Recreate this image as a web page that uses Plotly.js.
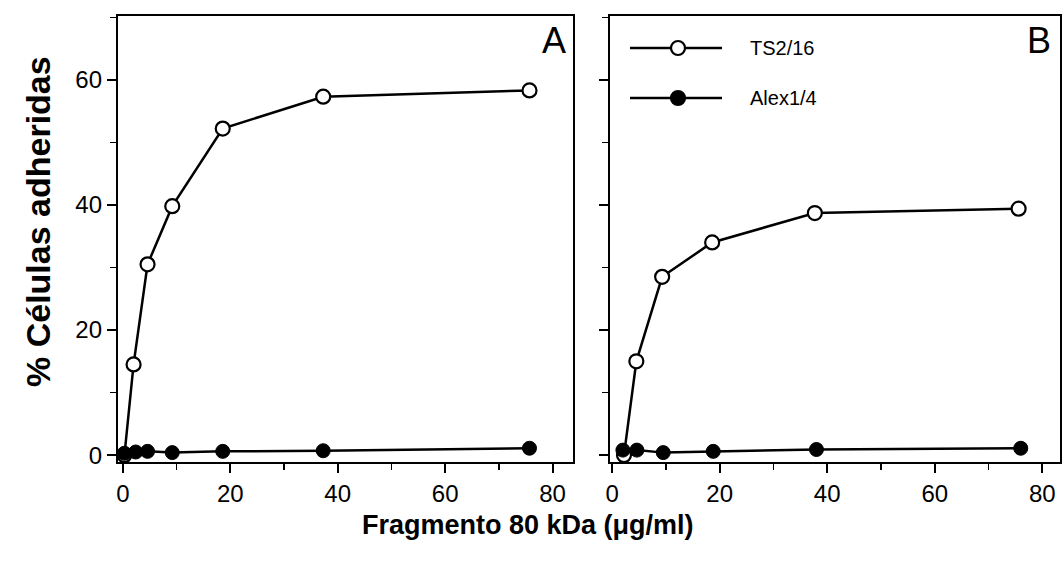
<!DOCTYPE html>
<html>
<head>
<meta charset="utf-8">
<script src="https://cdn.plot.ly/plotly-3.0.1.min.js"></script>
<style>html,body{margin:0;padding:0;background:#fff;}#chart{width:1064px;height:574px;}</style>
</head>
<body>
<div id="chart"></div>
<script>
// Panel A data
const aTsX = [0.3, 2.0, 4.6, 9.2, 18.6, 37.3, 75.7];
const aTsY = [0.0, 14.5, 30.5, 39.8, 52.2, 57.3, 58.3];
const aAlX = [0.3, 2.4, 4.6, 9.2, 18.6, 37.3, 75.7];
const aAlY = [0.3, 0.5, 0.6, 0.4, 0.6, 0.7, 1.1];
// Panel B data
const bTsX = [2.2, 4.5, 9.3, 18.6, 37.7, 75.6];
const bTsY = [0.0, 15.0, 28.5, 34.0, 38.7, 39.4];
const bAlX = [2.0, 4.6, 9.5, 18.8, 38.0, 76.0];
const bAlY = [0.8, 0.8, 0.4, 0.6, 0.9, 1.1];
const seriesNames = ["TS2/16", "Alex1/4"];
const yTickVals = [0, 20, 40, 60];
const yTickText = ["0", "20", "40", "60"];
const xTickVals = [0, 20, 40, 60, 80];
const xTickText = ["0", "20", "40", "60", "80"];
const panelLabels = ["A", "B"];
const xTitle = "Fragmento 80 kDa (μg/ml)";
const yTitle = "% Células adheridas";

const W = 1064, H = 574;
const FONT = "'Liberation Sans Narrow', 'Liberation Sans', Arial, sans-serif";
const openMarker = {symbol: "circle", size: 14, color: "#fff", line: {color: "#000", width: 2.2}};
const fillMarker = {symbol: "circle", size: 14, color: "#000", line: {color: "#000", width: 1}};
const lineStyle = {color: "#000", width: 2.5};

const traces = [
  {x: aTsX, y: aTsY, xaxis: "x", yaxis: "y", mode: "lines+markers", name: seriesNames[0], line: lineStyle, marker: openMarker},
  {x: aAlX, y: aAlY, xaxis: "x", yaxis: "y", mode: "lines+markers", name: seriesNames[1], line: lineStyle, marker: fillMarker},
  {x: bTsX, y: bTsY, xaxis: "x2", yaxis: "y2", mode: "lines+markers", name: seriesNames[0], line: lineStyle, marker: openMarker},
  {x: bAlX, y: bAlY, xaxis: "x2", yaxis: "y2", mode: "lines+markers", name: seriesNames[1], line: lineStyle, marker: fillMarker}
];

function xAxis(domain, range, anchor) {
  return {
    domain: domain, range: range, anchor: anchor,
    showline: true, linecolor: "#000", linewidth: 2.2, mirror: true,
    ticks: "outside", ticklen: 9, tickwidth: 2, tickcolor: "#000",
    tickvals: xTickVals, ticktext: xTickText,
    minor: {ticks: "outside", ticklen: 6, tickwidth: 1.5, tickcolor: "#000", dtick: 10, tick0: 0, showgrid: false},
    showgrid: false, zeroline: false,
    tickfont: {family: FONT, size: 24, color: "#000"}
  };
}
function yAxis(domain, anchor, labels) {
  return {
    domain: domain, range: [-1.1, 70.2], anchor: anchor,
    showline: true, linecolor: "#000", linewidth: 2.2, mirror: true,
    ticks: "outside", ticklen: 9, tickwidth: 2, tickcolor: "#000",
    tickvals: yTickVals, ticktext: yTickText, showticklabels: labels,
    minor: {ticks: "outside", ticklen: 6, tickwidth: 1.5, tickcolor: "#000", dtick: 10, tick0: 0, showgrid: false},
    showgrid: false, zeroline: false,
    tickfont: {family: FONT, size: 24, color: "#000"}
  };
}

// Hand-drawn legend (decoration) inside panel B
const legRows = [48, 98];
const legFills = ["#fff", "#000"];
const shapes = [];
const legAnn = [];
legRows.forEach((py, i) => {
  const yy = 1 - py / H;
  shapes.push({type: "line", xref: "paper", yref: "paper", x0: 630 / W, x1: 722 / W, y0: yy, y1: yy,
               line: {color: "#000", width: 2.5}});
  shapes.push({type: "circle", xref: "paper", yref: "paper", x0: 671 / W, x1: 685 / W,
               y0: yy - 7 / H, y1: yy + 7 / H, fillcolor: legFills[i], line: {color: "#000", width: 2.2}});
  legAnn.push({xref: "paper", yref: "paper", x: 748 / W, y: yy, xanchor: "left", yanchor: "middle", showarrow: false,
               text: seriesNames[i], font: {family: "'Liberation Sans', Arial, sans-serif", size: 20, color: "#000"}});
});

const yDom = [1 - 462 / H, 1 - 16 / H];
const layout = {
  width: W, height: H,
  margin: {l: 0, r: 0, t: 0, b: 0},
  paper_bgcolor: "#fff", plot_bgcolor: "#fff",
  showlegend: false,
  xaxis: xAxis([118 / W, 573 / W], [-0.9, 83.8], "y"),
  yaxis: yAxis(yDom, "x", true),
  xaxis2: xAxis([610 / W, 1060 / W], [-0.4, 83.3], "y2"),
  yaxis2: yAxis(yDom, "x2", false),
  shapes: shapes,
  annotations: [
    {xref: "x domain", yref: "y domain", x: 0.99, y: 0.995, xanchor: "right", yanchor: "top", showarrow: false,
     text: panelLabels[0], font: {family: "'Liberation Sans', Arial, sans-serif", size: 36, color: "#000"}},
    {xref: "x2 domain", yref: "y2 domain", x: 0.985, y: 0.995, xanchor: "right", yanchor: "top", showarrow: false,
     text: panelLabels[1], font: {family: "'Liberation Sans', Arial, sans-serif", size: 36, color: "#000"}},
    {xref: "paper", yref: "paper", x: 528 / W, y: 1 - 525 / H, xanchor: "center", yanchor: "middle", showarrow: false,
     text: "<b>" + xTitle + "</b>", font: {family: FONT, size: 27, color: "#000"}},
    {xref: "paper", yref: "paper", x: 38 / W, y: 1 - 222 / H, xanchor: "center", yanchor: "middle", showarrow: false,
     textangle: -90, text: "<b>" + yTitle + "</b>", font: {family: FONT, size: 34, color: "#000"}}
  ].concat(legAnn)
};

Plotly.newPlot("chart", traces, layout, {displayModeBar: false, staticPlot: true});
</script>
</body>
</html>
